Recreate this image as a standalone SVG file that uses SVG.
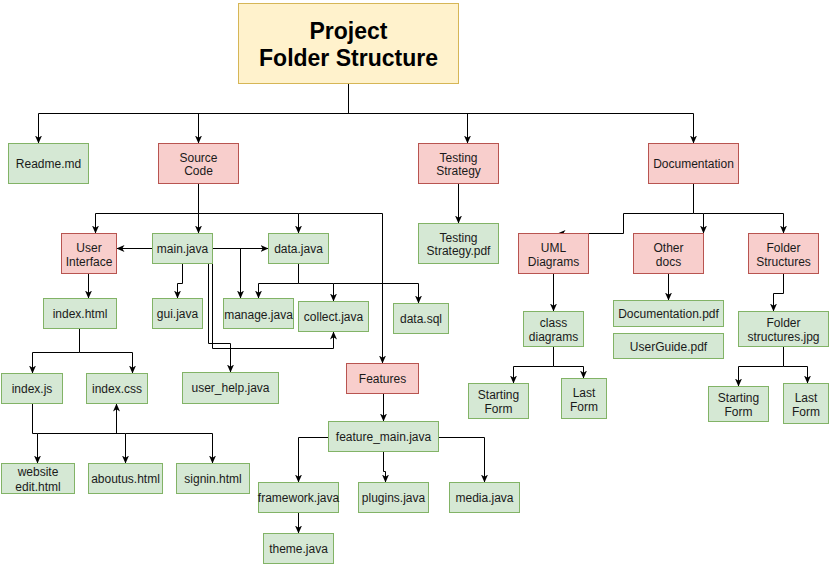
<svg xmlns="http://www.w3.org/2000/svg" width="829" height="564" viewBox="0 0 829 564">
<defs>
<marker id="a" viewBox="0 0 8 8" refX="8" refY="4" markerWidth="8" markerHeight="8" markerUnits="userSpaceOnUse" orient="auto"><path d="M0,0.5 L8,4 L0,7.5 L2.2,4 Z" fill="#000"/></marker>
</defs>
<style>
.g rect{fill:#d5e8d4;stroke:#82b366;stroke-width:1}
.r rect{fill:#f8cecc;stroke:#b85450;stroke-width:1}
.y rect{fill:#fff2cc;stroke:#d6b656;stroke-width:1}
text{font-family:"Liberation Sans",Arial,sans-serif;font-size:12px;fill:#1a1a1a;text-anchor:middle;dominant-baseline:central}
.t{font-size:23px;font-weight:bold;fill:#000}
#edges path{fill:none;stroke:#000;stroke-width:1;marker-end:url(#a)}
</style>
<rect width="829" height="564" fill="#fff"/>
<g transform="translate(0.5,0.5)">
<g id="edges">
<path d="M348,83 V113 H38 V143"/>
<path d="M348,113 H198 V143"/>
<path d="M348,113 H467 V143"/>
<path d="M348,113 H693 V143"/>
<path d="M198,183 V213 H95 V233"/>
<path d="M198,213 V233"/>
<path d="M198,213 H298 V233"/>
<path d="M298,213 H382 V363"/>
<path d="M152,248 H116"/>
<path d="M212,248 H268"/>
<path d="M240,248 V298"/>
<path d="M182,263 V283 H177 V298"/>
<path d="M208,263 V343 H230 V372"/>
<path d="M212,263 V348 H333 V331"/>
<path d="M298,263 V283 H258 V298"/>
<path d="M298,283 H333 V301"/>
<path d="M333,283 H418 V303"/>
<path d="M88,273 V298"/>
<path d="M79,328 V352 H32 V373"/>
<path d="M79,352 H132 V373"/>
<path d="M32,403 V433 H37 V463"/>
<path d="M37,433 H125 V463"/>
<path d="M125,433 H212 V463"/>
<path d="M116,433 V403"/>
<path d="M383,393 V421"/>
<path d="M328,437 H298 V482"/>
<path d="M383,451 V471 H385 V482"/>
<path d="M438,437 H484 V482"/>
<path d="M298,512 V533"/>
<path d="M458,183 V223"/>
<path d="M693,183 V213 H623 V233 H557"/>
<path d="M693,213 H703 V233"/>
<path d="M703,213 H783 V233"/>
<path d="M553,273 V311"/>
<path d="M553,346 V366 H513 V383"/>
<path d="M553,366 H583 V378"/>
<path d="M668,273 V300"/>
<path d="M783,273 V293 H773 V311"/>
<path d="M783,346 V366 H738 V386"/>
<path d="M783,366 H807 V383"/>
</g>
<g id="root" class="y"><rect x="238" y="3" width="220" height="80"/><text class="t" x="348" y="30">Project</text><text class="t" x="348" y="57">Folder Structure</text></g>
<g id="readme" class="g"><rect x="8" y="143" width="80" height="40"/><text x="48" y="163">Readme.md</text></g>
<g id="source" class="r"><rect x="158" y="143" width="80" height="40"/><text x="198" y="157">Source</text><text x="198" y="170">Code</text></g>
<g id="testing" class="r"><rect x="418" y="143" width="80" height="40"/><text x="458" y="157">Testing</text><text x="458" y="170">Strategy</text></g>
<g id="documentation" class="r"><rect x="648" y="143" width="90" height="40"/><text x="693" y="163">Documentation</text></g>
<g id="testingpdf" class="g"><rect x="418" y="223" width="80" height="40"/><text x="458" y="237">Testing</text><text x="458" y="250">Strategy.pdf</text></g>
<g id="ui" class="r"><rect x="61" y="233" width="55" height="40"/><text x="88.5" y="247">User</text><text x="88.5" y="261">Interface</text></g>
<g id="main" class="g"><rect x="152" y="233" width="60" height="30"/><text x="182" y="248">main.java</text></g>
<g id="data" class="g"><rect x="268" y="233" width="60" height="30"/><text x="298" y="248">data.java</text></g>
<g id="indexhtml" class="g"><rect x="43" y="298" width="73" height="30"/><text x="79.5" y="313">index.html</text></g>
<g id="gui" class="g"><rect x="152" y="298" width="50" height="30"/><text x="177" y="313">gui.java</text></g>
<g id="manage" class="g"><rect x="223" y="298" width="70" height="30"/><text x="258" y="314">manage.java</text></g>
<g id="collect" class="g"><rect x="298" y="301" width="70" height="30"/><text x="333" y="316">collect.java</text></g>
<g id="datasql" class="g"><rect x="393" y="303" width="55" height="30"/><text x="420.5" y="318">data.sql</text></g>
<g id="indexjs" class="g"><rect x="1" y="373" width="61" height="30"/><text x="31.5" y="388">index.js</text></g>
<g id="indexcss" class="g"><rect x="86" y="373" width="61" height="30"/><text x="116.5" y="388">index.css</text></g>
<g id="userhelp" class="g"><rect x="182" y="372" width="96" height="31"/><text x="230" y="387">user_help.java</text></g>
<g id="features" class="r"><rect x="346" y="363" width="72" height="30"/><text x="382" y="378">Features</text></g>
<g id="website" class="g"><rect x="1" y="463" width="73" height="30"/><text x="37.5" y="471">website</text><text x="37.5" y="486">edit.html</text></g>
<g id="aboutus" class="g"><rect x="88" y="463" width="74" height="30"/><text x="125" y="478">aboutus.html</text></g>
<g id="signin" class="g"><rect x="176" y="463" width="73" height="30"/><text x="212.5" y="478">signin.html</text></g>
<g id="featuremain" class="g"><rect x="328" y="421" width="110" height="30"/><text x="383" y="436">feature_main.java</text></g>
<g id="framework" class="g"><rect x="258" y="482" width="80" height="30"/><text x="298" y="497">framework.java</text></g>
<g id="plugins" class="g"><rect x="358" y="482" width="70" height="30"/><text x="393" y="497">plugins.java</text></g>
<g id="media" class="g"><rect x="449" y="482" width="70" height="30"/><text x="484" y="497">media.java</text></g>
<g id="theme" class="g"><rect x="263" y="533" width="70" height="30"/><text x="298" y="548">theme.java</text></g>
<g id="uml" class="r"><rect x="518" y="233" width="70" height="40"/><text x="553" y="247">UML</text><text x="553" y="261">Diagrams</text></g>
<g id="otherdocs" class="r"><rect x="633" y="233" width="70" height="40"/><text x="668" y="247">Other</text><text x="668" y="261">docs</text></g>
<g id="folderstructures" class="r"><rect x="748" y="233" width="70" height="40"/><text x="783" y="247">Folder</text><text x="783" y="261">Structures</text></g>
<g id="classdiagrams" class="g"><rect x="523" y="311" width="60" height="35"/><text x="553" y="322">class</text><text x="553" y="336">diagrams</text></g>
<g id="docpdf" class="g"><rect x="613" y="300" width="110" height="26"/><text x="668" y="313">Documentation.pdf</text></g>
<g id="userguide" class="g"><rect x="613" y="333" width="110" height="25"/><text x="668" y="346">UserGuide.pdf</text></g>
<g id="folderjpg" class="g"><rect x="738" y="311" width="90" height="35"/><text x="783" y="322">Folder</text><text x="783" y="336">structures.jpg</text></g>
<g id="startform1" class="g"><rect x="468" y="383" width="60" height="35"/><text x="498" y="394">Starting</text><text x="498" y="408">Form</text></g>
<g id="lastform1" class="g"><rect x="561" y="378" width="45" height="40"/><text x="583.5" y="392">Last</text><text x="583.5" y="406">Form</text></g>
<g id="startform2" class="g"><rect x="708" y="386" width="60" height="35"/><text x="738" y="397">Starting</text><text x="738" y="411">Form</text></g>
<g id="lastform2" class="g"><rect x="783" y="383" width="45" height="40"/><text x="805.5" y="397">Last</text><text x="805.5" y="411">Form</text></g>
</g>
</svg>
